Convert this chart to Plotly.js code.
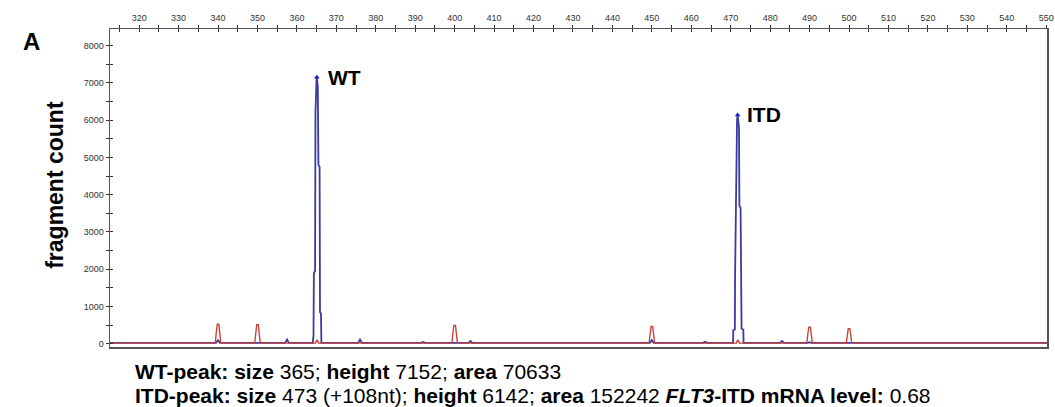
<!DOCTYPE html>
<html>
<head>
<meta charset="utf-8">
<script src="https://cdn.plot.ly/plotly-3.0.1.min.js"></script>
<style>html,body{margin:0;padding:0;background:#fff;}#chart{width:1055px;height:407px;}</style>
</head>
<body>
<div id="chart"></div>
<script>
// Blue channel (FLT3 fragments), size in nt vs fragment count
const blueSize = [312.6, 339.5, 340.0, 340.5, 357.0, 357.5, 358.0,
  364.0, 364.2, 364.3, 364.6, 364.7, 364.95, 365.05, 365.3, 365.45, 365.75, 365.85, 366.1, 366.2,
  375.5, 376.0, 376.5, 391.5, 392.0, 392.5, 403.5, 404.0, 404.5, 449.5, 450.0, 450.5, 463.0, 463.5, 464.0,
  470.6, 470.65, 471.05, 471.1, 471.3, 471.6, 471.75, 471.9, 472.1, 472.2, 472.5, 472.75, 473.2, 473.25,
  482.5, 483.0, 483.5, 489.6, 490.0, 490.4, 499.6, 500.0, 500.4, 550.2];
const blueCount = [20, 20, 90, 20, 20, 110, 20,
  20, 200, 1900, 1950, 6200, 7050, 7152, 6900, 4800, 4750, 850, 800, 20,
  20, 110, 20, 20, 45, 20, 20, 70, 20, 20, 90, 20, 20, 50, 20,
  20, 360, 380, 1750, 4450, 6000, 6142, 6000, 5800, 3700, 3650, 400, 380, 20,
  20, 70, 20, 20, 40, 20, 20, 35, 20, 20];
// Red channel (size standard)
const redSize = [312.6, 339.3, 339.55, 339.8, 340.2, 340.45, 340.7,
  349.3, 349.55, 349.8, 350.2, 350.45, 350.7, 364.7, 365.1, 365.5,
  399.3, 399.55, 399.8, 400.2, 400.45, 400.7,
  449.3, 449.55, 449.8, 450.2, 450.45, 450.7, 471.4, 471.8, 472.2,
  489.3, 489.55, 489.8, 490.2, 490.45, 490.7,
  499.3, 499.55, 499.8, 500.2, 500.45, 500.7, 550.2];
const redCount = [15, 15, 300, 520, 520, 300, 15,
  15, 300, 510, 510, 300, 15, 15, 100, 15,
  15, 290, 490, 490, 290, 15,
  15, 270, 460, 460, 270, 15, 15, 100, 15,
  15, 260, 440, 440, 260, 15,
  15, 240, 400, 400, 240, 15, 15];
const peakSize = [365.05, 471.75];
const peakCount = [7152, 6142];
const peakNames = ["WT", "ITD"];
const summary1 = "<b>WT-peak: size</b> 365; <b>height</b> 7152; <b>area</b> 70633";
const summary2 = "<b>ITD-peak: size</b> 473 (+108nt); <b>height</b> 6142; <b>area</b> 152242 <b><i>FLT3</i>-ITD mRNA level:</b> 0.68";

const traces = [
  {x: blueSize, y: blueCount, type: 'scatter', mode: 'lines', line: {color: '#3a3aa2', width: 1.8}, hoverinfo: 'skip'},
  {x: redSize, y: redCount, type: 'scatter', mode: 'lines', line: {color: '#c8443a', width: 1.4}, hoverinfo: 'skip'},
  {x: peakSize, y: peakCount, type: 'scatter', mode: 'markers', marker: {symbol: 'triangle-up', size: 5, color: '#1a1ad0'}, hoverinfo: 'skip'}
];

const tickFont = {family: 'Liberation Sans, Arial, sans-serif', size: 9, color: '#333'};
const xcommon = {range: [312.6, 550.2], tick0: 0, dtick: 10, showgrid: false, zeroline: false, ticklen: 3, tickcolor: '#333', tickwidth: 1,
  minor: {dtick: 5, ticklen: 3, tickcolor: '#333', showgrid: false}};
const ycommon = {range: [-90, 8450], tick0: 0, dtick: 1000, showgrid: false, zeroline: false, ticklen: 3, tickcolor: '#333', tickwidth: 1,
  minor: {dtick: 500, ticklen: 3, tickcolor: '#333', showgrid: false}};

const layout = {
  width: 1055, height: 407,
  margin: {l: 110, r: 8, t: 29, b: 60},
  paper_bgcolor: '#fff', plot_bgcolor: '#fff',
  showlegend: false,
  xaxis: Object.assign({}, xcommon, {side: 'top', ticks: 'outside', minor: Object.assign({}, xcommon.minor, {ticks: 'outside'}),
    showline: true, linecolor: '#555', linewidth: 1.5, mirror: true, tickfont: tickFont}),
  xaxis2: Object.assign({}, xcommon, {overlaying: 'x', matches: 'x', side: 'top', ticks: 'inside', minor: Object.assign({}, xcommon.minor, {ticks: 'inside'}),
    showticklabels: false, showline: false}),
  yaxis: Object.assign({}, ycommon, {ticks: 'outside', minor: Object.assign({}, ycommon.minor, {ticks: 'outside'}),
    showline: true, linecolor: '#555', linewidth: 1.5, mirror: true, tickfont: tickFont}),
  yaxis2: Object.assign({}, ycommon, {overlaying: 'y', matches: 'y', side: 'left', ticks: 'inside', minor: Object.assign({}, ycommon.minor, {ticks: 'inside'}),
    showticklabels: false, showline: false}),
  annotations: [
    {text: '<b>A</b>', xref: 'paper', yref: 'paper', x: -0.095, y: 0.962, xanchor: 'left', yanchor: 'middle', showarrow: false,
      font: {family: 'Liberation Sans, Arial, sans-serif', size: 24, color: '#000'}},
    {text: '<b>fragment count</b>', xref: 'paper', yref: 'paper', x: -0.0587, y: 0.51, xanchor: 'center', yanchor: 'middle', textangle: -90, showarrow: false,
      font: {family: 'Liberation Sans, Arial, sans-serif', size: 23, color: '#000'}},
    {text: '<b>' + peakNames[0] + '</b>', x: peakSize[0], y: peakCount[0], xref: 'x', yref: 'y', xanchor: 'left', yanchor: 'middle', xshift: 9, showarrow: false,
      font: {family: 'Liberation Sans, Arial, sans-serif', size: 21, color: '#000'}},
    {text: '<b>' + peakNames[1] + '</b>', x: peakSize[1], y: peakCount[1], xref: 'x', yref: 'y', xanchor: 'left', yanchor: 'middle', xshift: 7, showarrow: false,
      font: {family: 'Liberation Sans, Arial, sans-serif', size: 21, color: '#000'}},
    {text: summary1, xref: 'paper', yref: 'paper', x: 0.0245, y: -0.078, xanchor: 'left', yanchor: 'middle', showarrow: false,
      font: {family: 'Liberation Sans, Arial, sans-serif', size: 21, color: '#000'}},
    {text: summary2, xref: 'paper', yref: 'paper', x: 0.0245, y: -0.153, xanchor: 'left', yanchor: 'middle', showarrow: false,
      font: {family: 'Liberation Sans, Arial, sans-serif', size: 21, color: '#000'}}
  ]
};

traces.push({x: [312.6], y: [-90], xaxis: 'x2', yaxis: 'y2', type: 'scatter', mode: 'markers', marker: {opacity: 0}, hoverinfo: 'skip'});

Plotly.newPlot('chart', traces, layout, {displayModeBar: false, staticPlot: true});
</script>
</body>
</html>
